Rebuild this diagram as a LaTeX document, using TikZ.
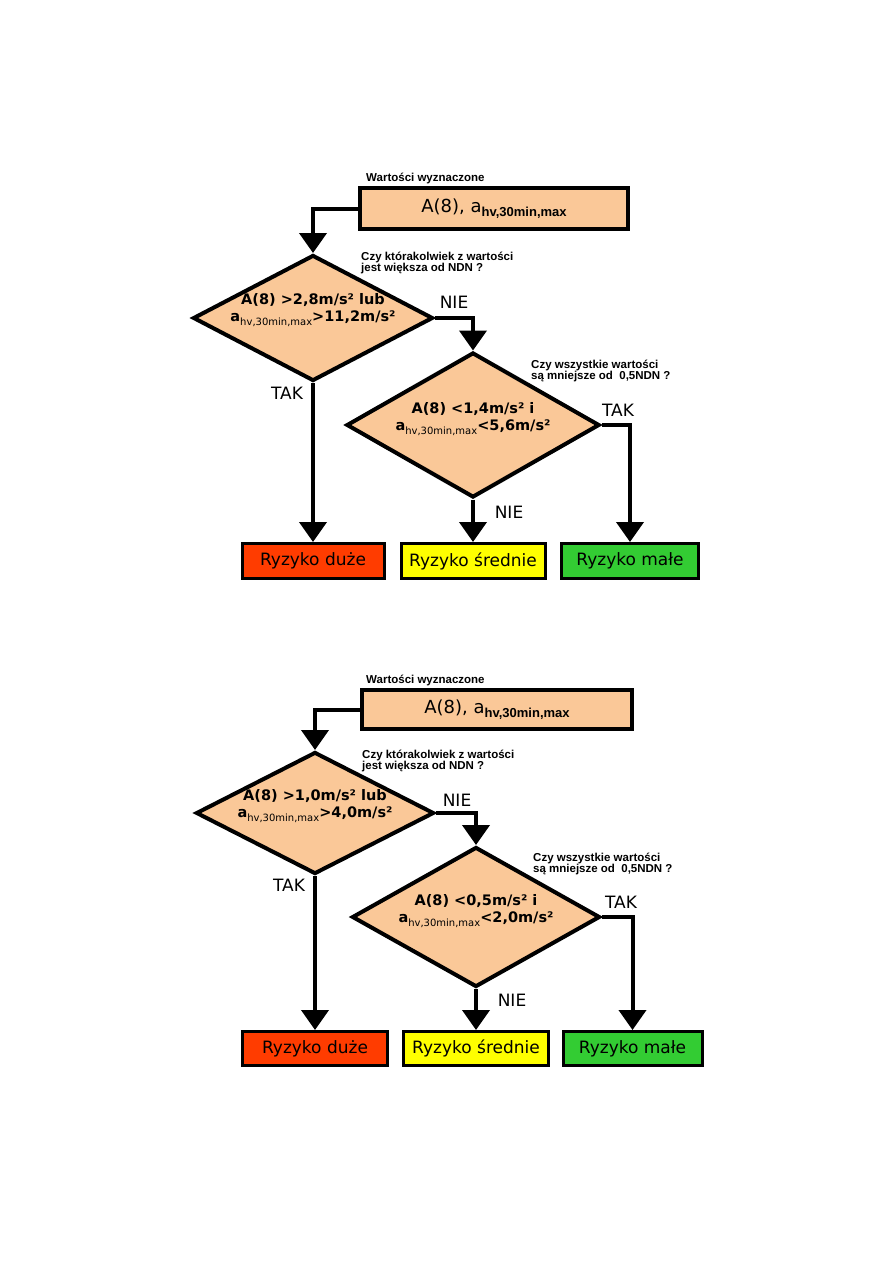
\documentclass[tikz,border=0pt]{standalone}
\usepackage{fontspec}
\setmainfont{DejaVu Sans}
\newfontfamily\arialf{Liberation Sans}
\usetikzlibrary{shapes.geometric,arrows.meta}
\definecolor{peach}{HTML}{FAC898}
\definecolor{rred}{HTML}{FF3C00}
\definecolor{ryel}{HTML}{FFFF00}
\definecolor{rgrn}{HTML}{33CC33}
\newcommand{\myfs}[1]{\fontsize{#1}{#1}\selectfont}
\newcommand{\hvsub}{\raisebox{-4pt}{\mdseries\myfs{10}hv,30min,max}}
\newcommand{\boxsub}{\raisebox{-4pt}{\arialf\bfseries\myfs{13}hv,30min,max}}
\tikzset{
  dia/.style={diamond, draw, line width=4pt, line join=miter, fill=peach, inner sep=0pt},
  topbox/.style={draw, line width=3.5pt, fill=peach, inner sep=0pt, font=\myfs{18}},
  riskbox/.style={draw, line width=3pt, inner sep=0pt, font=\myfs{17}},
  arr/.style={line width=4pt, line join=miter, -{Triangle[width=27pt,length=20pt]}},
  qlab/.style={font=\arialf\bfseries\fontsize{11.5}{11}\selectfont, align=left, inner sep=0pt, anchor=west},
  yn/.style={font=\myfs{17}, inner sep=0pt},
  dtext/.style={font=\bfseries\fontsize{14.5}{17}\selectfont, align=center, inner sep=0pt}
}
\begin{document}
\begin{tikzpicture}[x=1pt,y=-1pt]
\useasboundingbox (0,0) rectangle (893,1263);
% ---------- top chart ----------
\node[qlab] (lab1) at (366,178) {Wartości wyznaczone};
\node[topbox, minimum width=268pt, minimum height=41pt] (box1) at (494,208.5) {A(8), a\boxsub};
\node[dia, minimum width=240pt, minimum height=126pt] (d1) at (313,318) {};
\node[dtext] (t1) at (313,310) {A(8) >2,8m/s² lub\\a\hvsub>11,2m/s²};
\node[qlab] (q1) at (361,262.5) {Czy którakolwiek z wartości\\jest większa od NDN ?};
\node[dia, minimum width=253pt, minimum height=145pt] (d2) at (473,425) {};
\node[dtext] (t2) at (473,419) {A(8) <1,4m/s² i\\a\hvsub<5,6m/s²};
\node[qlab] (q2) at (531,370.5) {Czy wszystkie wartości\\są mniejsze od\ \ 0,5NDN ?};
\node[riskbox, fill=rred, minimum width=142pt, minimum height=35pt] (r1) at (313,561) {Ryzyko duże};
\node[riskbox, fill=ryel, minimum width=144pt, minimum height=35pt] (y1) at (473,561) {Ryzyko średnie};
\node[riskbox, fill=rgrn, minimum width=137pt, minimum height=35pt] (g1) at (630,561) {Ryzyko małe};
\node[yn] (nie1) at (454,302) {NIE};
\node[yn] (tak1) at (287,393) {TAK};
\node[yn] (tak2) at (618,410) {TAK};
\node[yn] (nie2) at (509,512) {NIE};
\draw[arr] (box1.west) -| (d1.north);
\draw[arr] (d1.east) -| (d2.north);
\draw[arr] (d1.south) -- (r1.north);
\draw[arr] (d2.south) -- (y1.north);
\draw[arr] (d2.east) -| (g1.north);
% ---------- bottom chart ----------
\node[qlab] (lab2) at (366,680) {Wartości wyznaczone};
\node[topbox, minimum width=270pt, minimum height=39pt] (box2) at (497,709.5) {A(8), a\boxsub};
\node[dia, minimum width=238pt, minimum height=122pt] (e1) at (315,813) {};
\node[dtext] (s1) at (315,806) {A(8) >1,0m/s² lub\\a\hvsub>4,0m/s²};
\node[qlab] (q3) at (362,760.5) {Czy którakolwiek z wartości\\jest większa od NDN ?};
\node[dia, minimum width=248pt, minimum height=140pt] (e2) at (476,917) {};
\node[dtext] (s2) at (476,911) {A(8) <0,5m/s² i\\a\hvsub<2,0m/s²};
\node[qlab] (q4) at (533,863.5) {Czy wszystkie wartości\\są mniejsze od\ \ 0,5NDN ?};
\node[riskbox, fill=rred, minimum width=145pt, minimum height=34pt] (r2) at (315,1048.5) {Ryzyko duże};
\node[riskbox, fill=ryel, minimum width=145pt, minimum height=34pt] (y2) at (476,1048.5) {Ryzyko średnie};
\node[riskbox, fill=rgrn, minimum width=139pt, minimum height=34pt] (g2) at (632.5,1048.5) {Ryzyko małe};
\node[yn] (nie3) at (457,800) {NIE};
\node[yn] (tak3) at (289,885) {TAK};
\node[yn] (tak4) at (621,902) {TAK};
\node[yn] (nie4) at (512,1000) {NIE};
\draw[arr] (box2.west) -| (e1.north);
\draw[arr] (e1.east) -| (e2.north);
\draw[arr] (e1.south) -- (r2.north);
\draw[arr] (e2.south) -- (y2.north);
\draw[arr] (e2.east) -| (g2.north);
\end{tikzpicture}
\end{document}
